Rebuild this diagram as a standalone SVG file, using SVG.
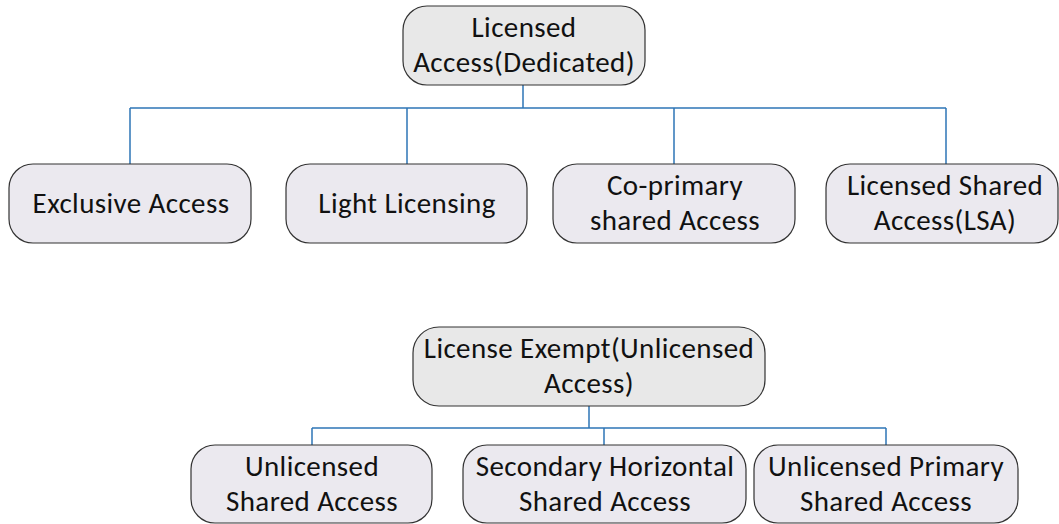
<svg xmlns="http://www.w3.org/2000/svg" width="1059" height="524" viewBox="0 0 1059 524">
<style>
.root{fill:#e8e8e8;stroke:#333;stroke-width:1.2}
.leaf{fill:#ebe9ef;stroke:#333;stroke-width:1.2}
text{font-family:Carlito,Lato,"Liberation Sans",sans-serif;font-size:29px;letter-spacing:0.4px;fill:#111;text-anchor:middle}
.conn{fill:none;stroke:#2e75b6;stroke-width:1.5}
</style>
<rect width="1059" height="524" fill="#fff"/>
<g id="connectors">
<path class="conn" d="M523 85V108M130 108H946M130 108V164M407 108V164M674 108V164M946 108V164"/>
<path class="conn" d="M589 406V428M312 428H886M312 428V445M604 428V445M886 428V445"/>
</g>
<g id="licensed">
<rect class="root" x="403" y="6" width="242" height="79" rx="24"/>
<text x="524" y="37">Licensed</text>
<text x="524" y="72">Access(Dedicated)</text>
</g>
<g id="exclusive">
<rect class="leaf" x="9" y="164" width="242" height="79" rx="24"/>
<text x="131" y="213">Exclusive Access</text>
</g>
<g id="light">
<rect class="leaf" x="286" y="164" width="241" height="79" rx="24"/>
<text x="407" y="213">Light Licensing</text>
</g>
<g id="coprimary">
<rect class="leaf" x="553" y="164" width="242" height="79" rx="24"/>
<text x="675" y="195">Co-primary</text>
<text x="675" y="230">shared Access</text>
</g>
<g id="lsa">
<rect class="leaf" x="826" y="164" width="232" height="79" rx="24"/>
<text x="945" y="195">Licensed Shared</text>
<text x="945" y="230">Access(LSA)</text>
</g>
<g id="exempt">
<rect class="root" x="413" y="327" width="352" height="79" rx="26"/>
<text x="589" y="358">License Exempt(Unlicensed</text>
<text x="589" y="393">Access)</text>
</g>
<g id="unlicensed-shared">
<rect class="leaf" x="191" y="445" width="241" height="78" rx="24"/>
<text x="312" y="476">Unlicensed</text>
<text x="312" y="511">Shared Access</text>
</g>
<g id="secondary">
<rect class="leaf" x="463" y="445" width="283" height="78" rx="24"/>
<text x="605" y="476">Secondary Horizontal</text>
<text x="605" y="511">Shared Access</text>
</g>
<g id="unlicensed-primary">
<rect class="leaf" x="754" y="445" width="264" height="78" rx="24"/>
<text x="886" y="476">Unlicensed Primary</text>
<text x="886" y="511">Shared Access</text>
</g>
</svg>
